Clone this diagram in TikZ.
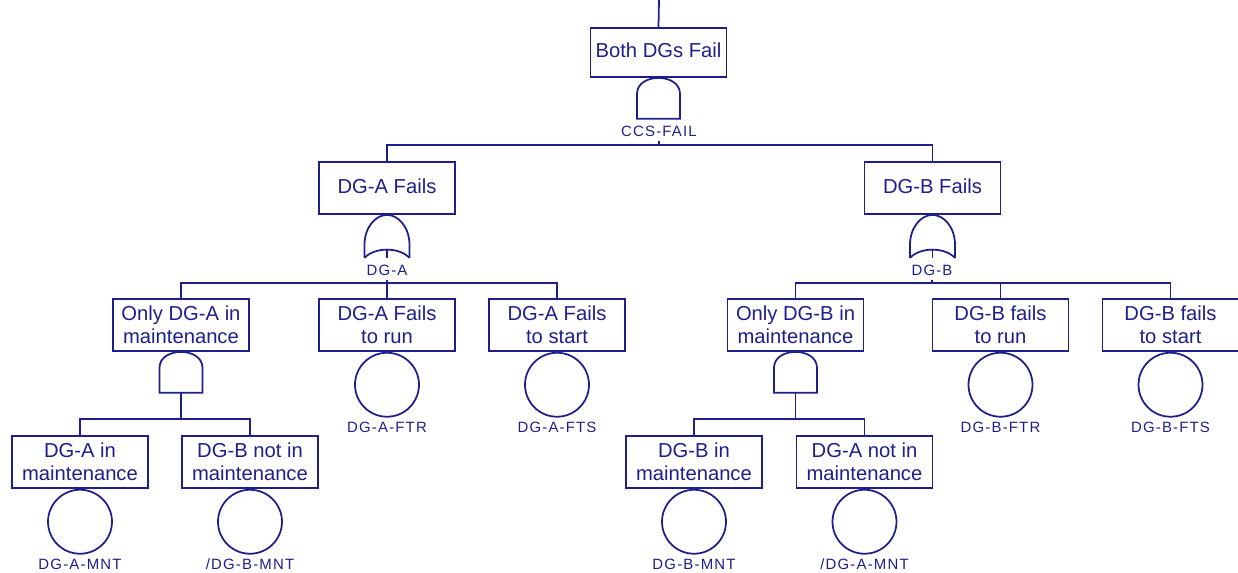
\documentclass[tikz,border=0pt]{standalone}
\usepackage{fontspec}
\setmainfont{Liberation Sans}
\newfontfamily\tagfont[LetterSpace=8]{Liberation Sans}
\usetikzlibrary{positioning}
\definecolor{ftblue}{RGB}{30,30,140}

\begin{document}
\begin{tikzpicture}[x=0.02cm, y=-0.02cm, line width=1pt, color=ftblue,
  ev/.style={draw, rectangle, minimum width=2.72cm, minimum height=1.04cm, inner sep=0pt, align=center, font=\fontsize{11.5}{13}\selectfont},
  ev1/.style={ev, execute at begin node={\raisebox{2.3pt}\bgroup}, execute at end node={\egroup}},
  be/.style={draw, circle, minimum size=1.28cm, inner sep=0pt},
  tag/.style={font=\tagfont\fontsize{8.5}{9}\selectfont, inner sep=2pt},
  link/.style={line width=1pt},
  andgate/.pic={
    \draw (-21.5,41) -- (-21.5,16) .. controls (-21.5,-5.3) and (21.5,-5.3) .. (21.5,16) -- (21.5,41) -- cycle;
    \coordinate (-out) at (0,41);
  },
  orgate/.pic={
    \draw (-22.5,43) -- (-22.5,30) .. controls (-22.5,12) and (-11,0) .. (0,0) .. controls (11,0) and (22.5,12) .. (22.5,30) -- (22.5,43);
    \draw (-22.5,43) .. controls (-12,32) and (12,32) .. (22.5,43);
    \draw (0,34.8) -- (0,43);
    \coordinate (-out) at (0,43);
  }
]
\useasboundingbox (0,0) rectangle (1238,573);
\coordinate (topin) at (659,0);
\coordinate (bus1) at (0,145);
\coordinate (bus2) at (0,283);
\coordinate (bus3) at (0,419);

% Top event
\node[ev, minimum height=0.98cm] (both) at (658.5,52.5) {\raisebox{2.5pt}{Both DGs Fail}};
\pic (gTop) at (both.south) {andgate};
\node[tag] (lblCCS) at (659,131) {CCS-FAIL};

% DG-A / DG-B
\node[ev] (dga) at (387,188) {\raisebox{2.3pt}{DG-A Fails}};
\node[ev] (dgb) at (932.5,188) {\raisebox{2.3pt}{DG-B Fails}};
\pic (gA) at (dga.south) {orgate};
\pic (gB) at (dgb.south) {orgate};
\node[tag] (lblA) at (387,270) {DG-A};
\node[tag] (lblB) at (932,270) {DG-B};

% DG-A branch
\node[ev] (onlyA) at (181,325) {Only DG-A in\\maintenance};
\node[ev] (runA) at (387,325) {DG-A Fails\\to run};
\node[ev] (startA) at (557,325) {DG-A Fails\\to start};
\pic (gOnlyA) at (onlyA.south) {andgate};
\node[ev] (mntA) at (80,462) {DG-A in\\maintenance};
\node[ev] (notB) at (250,462) {DG-B not in\\maintenance};

% DG-B branch
\node[ev] (onlyB) at (795.5,325) {Only DG-B in\\maintenance};
\node[ev] (runB) at (1000.5,325) {DG-B fails\\to run};
\node[ev] (startB) at (1170.5,325) {DG-B fails\\to start};
\pic (gOnlyB) at (onlyB.south) {andgate};
\node[ev] (mntB) at (694,462) {DG-B in\\maintenance};
\node[ev] (notA) at (864.5,462) {DG-A not in\\maintenance};

% Basic events
\node[be, anchor=north] (cAftr) at (runA.south) {};
\node[be, anchor=north] (cAfts) at (startA.south) {};
\node[be, anchor=north] (cAmnt) at (mntA.south) {};
\node[be, anchor=north] (cBnot) at (notB.south) {};
\node[be, anchor=north] (cBftr) at (runB.south) {};
\node[be, anchor=north] (cBfts) at (startB.south) {};
\node[be, anchor=north] (cBmnt) at (mntB.south) {};
\node[be, anchor=north] (cAnot) at (notA.south) {};
\node[tag, anchor=north] (tAftr) at (cAftr.south) {DG-A-FTR};
\node[tag, anchor=north] (tAfts) at (cAfts.south) {DG-A-FTS};
\node[tag, anchor=north] (tAmnt) at (cAmnt.south) {DG-A-MNT};
\node[tag, anchor=north] (tBnot) at (cBnot.south) {/DG-B-MNT};
\node[tag, anchor=north] (tBftr) at (cBftr.south) {DG-B-FTR};
\node[tag, anchor=north] (tBfts) at (cBfts.south) {DG-B-FTS};
\node[tag, anchor=north] (tBmnt) at (cBmnt.south) {DG-B-MNT};
\node[tag, anchor=north] (tAnot) at (cAnot.south) {/DG-A-MNT};

% Connectors
\draw[link] (topin) -- (both.north);
\draw[link] (lblCCS.south) -- (lblCCS.south |- bus1) -| (dga.north);
\draw[link] (lblCCS.south |- bus1) -| (dgb.north);
\draw[link] (lblA.south) -- (lblA.south |- bus2) -| (onlyA.north);
\draw[link] (lblA.south |- bus2) -| (runA.north);
\draw[link] (lblA.south |- bus2) -| (startA.north);
\draw[link] (lblB.south) -- (lblB.south |- bus2) -| (onlyB.north);
\draw[link] (lblB.south |- bus2) -| (runB.north);
\draw[link] (lblB.south |- bus2) -| (startB.north);
\draw[link] (gOnlyA-out) -- (gOnlyA-out |- bus3) -| (mntA.north);
\draw[link] (gOnlyA-out |- bus3) -| (notB.north);
\draw[link] (gOnlyB-out) -- (gOnlyB-out |- bus3) -| (mntB.north);
\draw[link] (gOnlyB-out |- bus3) -| (notA.north);
\end{tikzpicture}
\end{document}
